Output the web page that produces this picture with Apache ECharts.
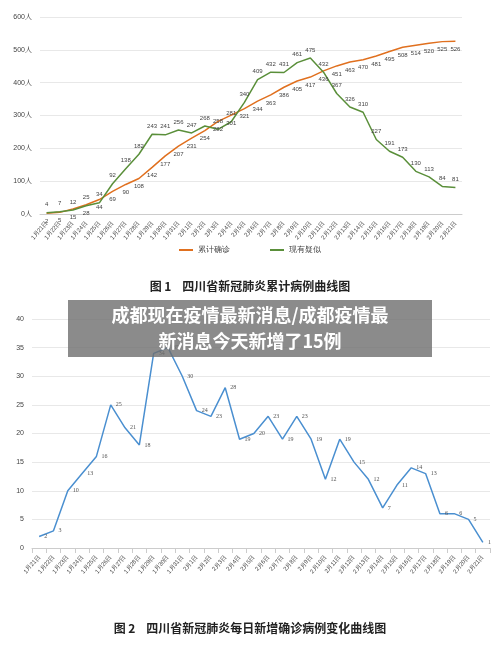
<!DOCTYPE html><html><head><meta charset="utf-8"><script src="https://cdn.jsdelivr.net/npm/echarts@6/dist/echarts.min.js"></script>
<style>body{margin:0;background:#fff}#c{width:500px;height:653px}</style></head><body><div id="c"></div><script>
const dates=[];for(let i=21;i<=31;i++)dates.push('1月'+i+'日');for(let i=1;i<=21;i++)dates.push('2月'+i+'日');
const cumulative=[2,5,15,28,44,69,90,108,142,177,207,231,254,282,301,321,344,363,386,405,417,436,451,463,470,481,495,508,514,520,525,526];
const suspected=[4,7,12,25,34,92,138,182,243,241,256,247,268,258,281,340,409,432,431,461,475,432,367,326,310,227,191,173,130,113,84,81];
const daily=[2,3,10,13,16,25,21,18,34,35,30,24,23,28,19,20,23,19,23,19,12,19,15,12,7,11,14,13,6,6,5,1];
const c=echarts.init(document.getElementById('c'));
const axLab={fontSize:6,color:'#444',rotate:50,interval:0};
const sym={symbol:'circle',symbolSize:0.1,showSymbol:true,labelLayout:{hideOverlap:false}};
c.setOption({animation:false,
grid:[{left:40,right:38,top:17,height:197},{left:32,right:10,top:319,height:229}],
legend:{top:241,left:'center',itemWidth:14,itemHeight:2,icon:'rect',textStyle:{fontSize:8,color:'#444'},itemGap:40,data:['累计确诊','现有疑似']},
xAxis:[{gridIndex:0,type:'category',data:dates,boundaryGap:true,axisLabel:axLab,axisTick:{show:false},axisLine:{lineStyle:{color:'#ccc'}}},
{gridIndex:1,type:'category',data:dates,boundaryGap:true,axisLabel:axLab,axisTick:{show:true,lineStyle:{color:'#ccc'}},axisLine:{lineStyle:{color:'#ccc'}}}],
yAxis:[{gridIndex:0,min:0,max:600,interval:100,axisLabel:{formatter:'{value}人',fontSize:7,color:'#444'},splitLine:{lineStyle:{color:'#e8e8e8'}}},
{gridIndex:1,min:0,max:40,interval:5,axisLabel:{fontSize:7,color:'#444'},splitLine:{lineStyle:{color:'#e8e8e8'}}}],
series:[
Object.assign({name:'累计确诊',type:'line',xAxisIndex:0,yAxisIndex:0,data:cumulative,lineStyle:{color:'#e0701f',width:1.5},itemStyle:{color:'#e0701f'},label:{show:true,position:'bottom',fontSize:6,color:'#444'}},sym),
Object.assign({name:'现有疑似',type:'line',xAxisIndex:0,yAxisIndex:0,data:suspected,lineStyle:{color:'#5a8f3a',width:1.5},itemStyle:{color:'#5a8f3a'},label:{show:true,position:'top',fontSize:6,color:'#444'}},sym),
Object.assign({name:'daily',type:'line',xAxisIndex:1,yAxisIndex:1,data:daily,lineStyle:{color:'#4a8fd0',width:1.5},itemStyle:{color:'#4a8fd0'},label:{show:true,position:'right',fontSize:6,color:'#555',fontFamily:'Liberation Serif'}},sym)],
graphic:[
{type:'text',left:'center',top:280,style:{text:'图 1    四川省新冠肺炎累计病例曲线图',font:'bold 12px "Noto Sans CJK SC"',fill:'#222'}},
{type:'text',left:'center',top:622,style:{text:'图 2    四川省新冠肺炎每日新增确诊病例变化曲线图',font:'bold 12px "Noto Sans CJK SC"',fill:'#222'}},
{type:'rect',shape:{x:68,y:300,width:364,height:57},style:{fill:'rgba(110,110,110,0.8)'},z:100},
{type:'text',x:250,y:302,z:101,style:{text:'成都现在疫情最新消息/成都疫情最\n新消息今天新增了15例',align:'center',lineHeight:26,font:'bold 18px "Noto Sans CJK SC"',fill:'#fff'}}
]});
</script></body></html>
